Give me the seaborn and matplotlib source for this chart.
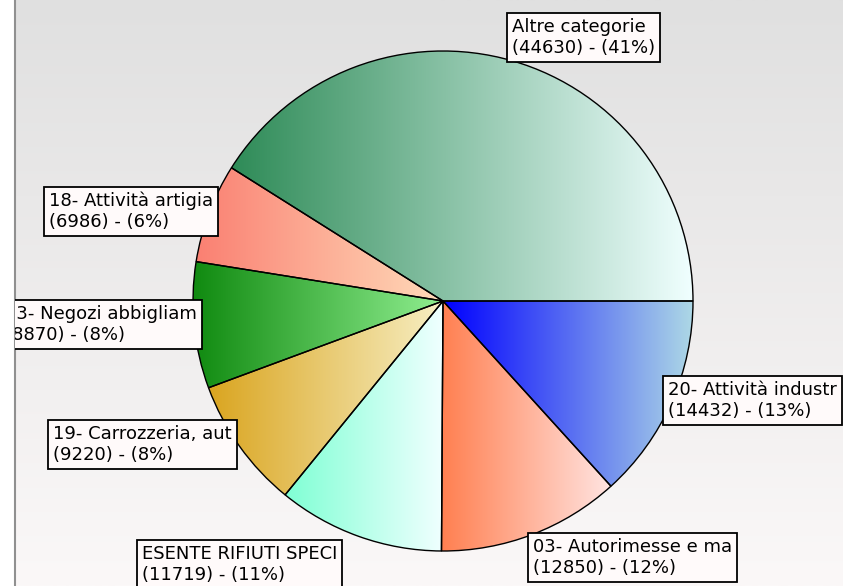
import numpy as np
import matplotlib
matplotlib.use("Agg")
import matplotlib.pyplot as plt
import seaborn as sns

# slices in drawing order (clockwise from 3 o'clock)
names = [
    "20- Attività industr",
    "03- Autorimesse e ma",
    "ESENTE RIFIUTI SPECI",
    "19- Carrozzeria, aut",
    "13- Negozi abbigliam",
    "18- Attività artigia",
    "Altre categorie",
]
values = [14432, 12850, 11719, 9220, 8870, 6986, 44630]
start_colors = ["#0000ff", "#ff7f50", "#7fffd4", "#daa520", "#108a10", "#fa8072", "#2e8b57"]
end_colors = ["#add8e6", "#ffe4e1", "#f0ffff", "#f7efc4", "#90ee90", "#ffdab9", "#f0ffff"]

# label box top-left corners, in pixels from the image top-left
label_pos = [(663, 376), (528, 533), (137, 540), (48, 420), (0, 300), (44, 187), (507, 13)]

W, H = 843, 586
LEFT = 15

sns.set_theme(style="white")
plt.rcParams["font.family"] = ["DejaVu Sans"]

fig = plt.figure(figsize=(W / 100, H / 100), dpi=100)
ax = fig.add_axes([LEFT / W, 0, (W - LEFT) / W, 1])

# background gradient
bg = sns.blend_palette(["#e0e0e0", "#fbf8f8"], as_cmap=True)
ax.imshow(np.linspace(0, 1, 256).reshape(-1, 1), cmap=bg, aspect="auto",
          extent=(LEFT, W, 0, H), origin="upper", zorder=0)

cx, cy, r = 443, H - 301, 250
wedges, _ = ax.pie(values, startangle=0, counterclock=False, center=(cx, cy),
                   radius=r, frame=True,
                   wedgeprops=dict(edgecolor="black", linewidth=1.0))

for w, c0, c1 in zip(wedges, start_colors, end_colors):
    w.set_facecolor("none")
    w.set_zorder(3)
    ext = w.get_path().get_extents()
    cmap = sns.blend_palette([c0, c1], as_cmap=True)
    im = ax.imshow(np.linspace(0, 1, 256).reshape(1, -1), cmap=cmap, aspect="auto",
                   extent=(ext.x0, ext.x1, ext.y0, ext.y1), zorder=2)
    im.set_clip_path(w)

total = sum(values)
fs = 13
pad_px = 5
for name, v, (bx, by) in zip(names, values, label_pos):
    pct = round(v / total * 100)
    ax.text(bx + pad_px, H - by - pad_px, f"{name}\n({v}) - ({pct}%)",
            ha="left", va="top", fontsize=fs, color="black", zorder=5,
            linespacing=1.2, clip_on=True,
            bbox=dict(boxstyle=f"square,pad={pad_px * 0.72 / fs:.3f}",
                      fc="#fffafa", ec="black", lw=1.3))

ax.set_xlim(LEFT, W)
ax.set_ylim(0, H)
ax.set_aspect("auto")
ax.set_xticks([])
ax.set_yticks([])
for side in ["top", "right", "bottom"]:
    ax.spines[side].set_visible(False)
ax.spines["left"].set_color("#909090")
ax.spines["left"].set_linewidth(1.5)

fig.savefig("out.png", dpi=100)
